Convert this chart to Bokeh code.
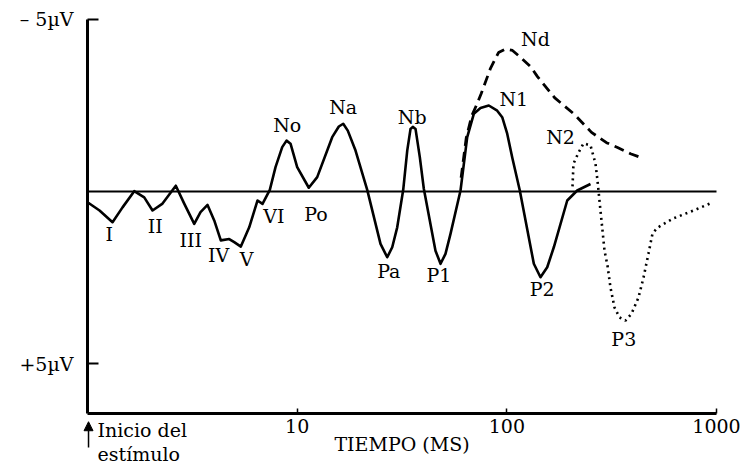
from bokeh.plotting import figure
from bokeh.models import Range1d, FixedTicker, NumeralTickFormatter, Arrow, NormalHead
from bokeh.core.properties import value
from bokeh.embed import file_html
from bokeh.resources import INLINE

FONT = "DejaVu Serif"
FS = "19px"

# Solid trace: time (ms, log axis) and amplitude (µV, negative drawn upward)
solid_t = [1.00, 1.141, 1.316, 1.469, 1.670, 1.864, 2.042, 2.279, 2.637, 2.892,
           3.228, 3.459, 3.736, 4.021, 4.322, 4.740, 5.009, 5.386, 5.905, 6.470,
           6.833, 7.404, 7.883, 8.484, 8.896, 9.294, 10.00, 11.36, 12.46, 14.69,
           15.80, 16.58, 17.43, 18.98, 21.58, 24.97, 26.88, 28.40, 30.00, 32.04,
           33.49, 34.72, 35.6, 36.68, 38.45, 40.18, 45.67, 48.28, 50.97, 53.86,
           60.12, 64.71, 69.57, 74.87, 82.03, 89.95, 95.04, 100.4, 106.1, 115.3,
           134.5, 144.7, 155.8, 167.5, 194.1, 216.6, 250.6]
solid_v = [0.31, 0.55, 0.89, 0.46, -0.01, 0.17, 0.55, 0.35, -0.17, 0.35,
           0.94, 0.60, 0.39, 0.84, 1.42, 1.38, 1.47, 1.60, 1.04, 0.26,
           0.36, -0.05, -0.71, -1.29, -1.48, -1.39, -0.71, -0.11, -0.42, -1.58,
           -1.89, -1.97, -1.77, -1.19, -0.05, 1.52, 1.91, 1.62, 1.04, -0.05,
           -1.19, -1.82, -1.88, -1.82, -1.00, -0.08, 1.72, 2.10, 1.81, 1.23,
           -0.03, -1.58, -2.26, -2.43, -2.50, -2.35, -2.16, -1.68, -0.99, -0.03,
           2.10, 2.49, 2.20, 1.62, 0.26, -0.03, -0.22]

# Nd (dashed)
nd_t = [60.5, 64.0, 68.0, 71.5, 75.5, 83.56, 91.26, 98.53, 106.4, 116.2, 129.7,
        140.0, 168.8, 210.3, 253.4, 298.7, 337.2, 388.9, 448.6]
nd_v = [-0.40, -1.55, -2.20, -2.50, -2.85, -3.58, -4.04, -4.14, -4.10, -3.90, -3.63,
        -3.34, -2.73, -2.24, -1.72, -1.42, -1.28, -1.10, -0.96]

# N2 / P3 (dotted)
p3_t = [205.7, 207.9, 219.7, 232.1, 250.6, 264.8, 270.6, 279.6, 285.9, 292.3,
        302.0, 312.1, 326.2, 344.6, 368.1, 393.2, 424.6, 448.6, 473.9, 495.2,
        523.2, 623.6, 776.8, 957.1]
p3_v = [-0.15, -0.81, -1.13, -1.40, -1.34, -0.81, -0.32, 0.55, 1.13, 1.72,
        2.15, 2.79, 3.37, 3.66, 3.75, 3.55, 3.08, 2.50, 1.80, 1.22,
        1.05, 0.78, 0.55, 0.32]

# Component names and where they sit
peak_names = ["I", "II", "III", "IV", "V", "VI", "No", "Po", "Na", "Pa", "Nb",
              "P1", "N1", "Nd", "N2", "P2", "P3"]
peak_t = [1.269, 2.103, 3.110, 4.216, 5.732, 7.737, 8.964, 12.30, 16.58, 27.35,
          35.38, 47.38, 108.0, 137.0, 180.3, 147.5, 361.3]
peak_v = [1.23, 0.99, 1.42, 1.83, 1.96, 0.70, -1.92, 0.65, -2.45, 2.30,
          -2.16, 2.44, -2.69, -4.44, -1.58, 2.83, 4.28]

x_ticks = [10, 100, 1000]
y_ticks = [-5, 5]
y_tick_labels = {-5: "– 5µV", 5: "+5µV"}
y_floor = 6.45           # where the time axis sits (µV)
onset_t = 1.0            # stimulus onset (ms)
onset_text = ["Inicio del", "estímulo"]
onset_text_t = [1.116, 1.116]
onset_text_v = [6.92, 7.64]

# the frame covers the whole canvas; axes are pinned at fixed data locations
p = figure(width=744, height=466, x_axis_type="log",
           x_range=Range1d(0.3845, 1360), y_range=Range1d(7.991, -5.552),
           output_backend="svg", toolbar_location=None,
           min_border_left=0, min_border_right=0, min_border_top=0,
           min_border_bottom=0)
p.outline_line_color = None
p.grid.visible = False
p.background_fill_color = "white"

p.line(solid_t, solid_v, line_color="black", line_width=2.6, line_join="round")
p.line(nd_t, nd_v, line_color="black", line_width=2.8, line_dash="10 6")
p.line(p3_t, p3_v, line_color="black", line_width=2.6, line_dash="2 4")

# zero line across the time span
p.line([onset_t, x_ticks[-1]], [0, 0], line_color="black", line_width=2)

p.text(x=peak_t, y=peak_v, text=peak_names, text_align="center",
       text_baseline="middle", text_font=value(FONT), text_font_size=FS,
       text_color="black")

p.text(x=onset_text_t, y=onset_text_v, text=onset_text, text_align="left",
       text_baseline="middle", text_font=value(FONT), text_font_size=FS,
       text_color="black")

# axes
xa = p.xaxis[0]
xa.fixed_location = y_floor
xa.bounds = (onset_t, x_ticks[-1])
xa.ticker = FixedTicker(ticks=x_ticks)
xa.formatter = NumeralTickFormatter(format="0")
xa.axis_line_width = 3
xa.axis_line_color = "black"
xa.major_tick_in = 5
xa.major_tick_out = 0
xa.major_tick_line_width = 1.5
xa.minor_tick_line_color = None
xa.major_label_standoff = 6
xa.major_label_text_font = FONT
xa.major_label_text_font_size = FS
xa.major_label_text_color = "black"
xa.axis_label = "TIEMPO (MS)"
xa.axis_label_text_font = FONT
xa.axis_label_text_font_size = FS
xa.axis_label_text_font_style = "normal"
xa.axis_label_text_color = "black"
xa.axis_label_standoff = -4

ya = p.yaxis[0]
ya.fixed_location = onset_t
ya.bounds = (-5, y_floor)
ya.ticker = FixedTicker(ticks=y_ticks)
ya.major_label_overrides = y_tick_labels
ya.axis_line_width = 3
ya.axis_line_color = "black"
ya.major_tick_in = 11
ya.major_tick_out = 0
ya.major_tick_line_width = 2
ya.minor_tick_line_color = None
ya.major_label_standoff = 14
ya.major_label_text_font = FONT
ya.major_label_text_font_size = FS
ya.major_label_text_color = "black"

# stimulus onset arrow
p.add_layout(Arrow(end=NormalHead(size=9, fill_color="black", line_color="black"),
                   x_start=onset_t * 1.011, y_start=7.44,
                   x_end=onset_t * 1.011, y_end=6.69,
                   line_width=1.5, line_color="black"))

open("out.html", "w").write(file_html(p, INLINE))
